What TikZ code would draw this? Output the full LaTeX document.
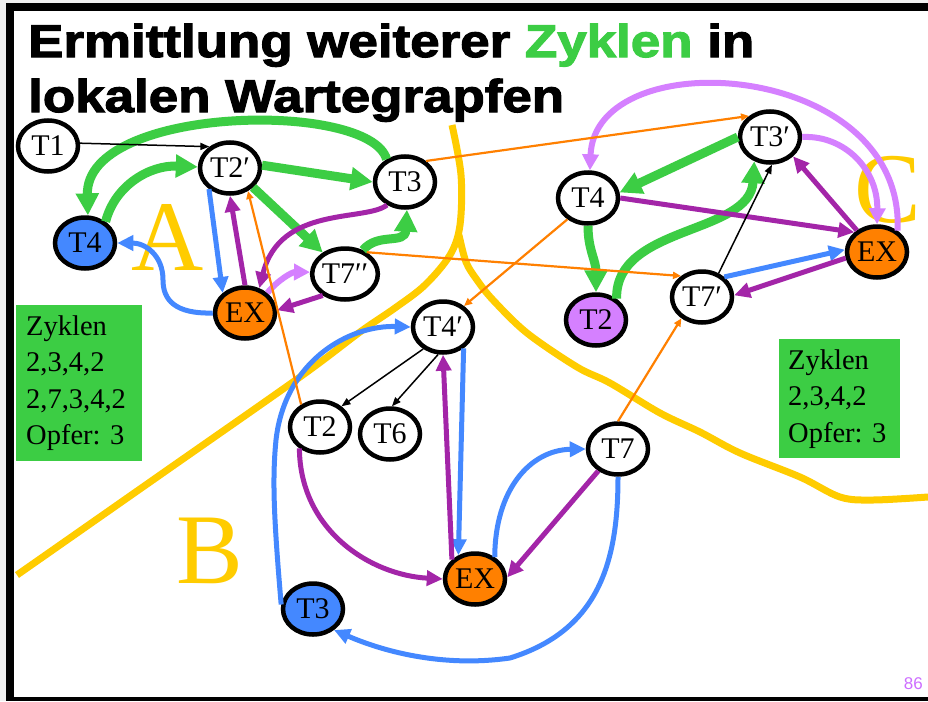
\documentclass[tikz,border=0pt]{standalone}
\usepackage{fontspec}
\setmainfont{Liberation Serif}
\newfontfamily\titlefont[FakeStretch=1.15,FakeBold=2.5]{Liberation Sans Bold}
\newfontfamily\pagefont{Liberation Sans}
\usetikzlibrary{arrows.meta,shapes.geometric}
\frenchspacing

\definecolor{zgreen}{RGB}{60,205,68}
\definecolor{zpurple}{RGB}{163,37,168}
\definecolor{zblue}{RGB}{68,136,255}
\definecolor{zlav}{RGB}{213,128,255}
\definecolor{zorange}{RGB}{255,128,0}
\definecolor{zgold}{RGB}{255,204,0}
\definecolor{pnum}{RGB}{205,110,255}

\tikzset{
  tnode/.style={ellipse, draw, line width=4.5pt, minimum width=60pt, minimum height=51pt,
    inner sep=0pt, fill=white, font=\fontsize{30}{36}\selectfont},
  gar/.style={draw=zgreen, line width=9pt, -{Triangle[length=22pt,width=22pt]}},
  par/.style={draw=zpurple, line width=5pt, -{Triangle[length=16pt,width=15pt]}},
  bar/.style={draw=zblue, line width=5pt, -{Triangle[length=16pt,width=15pt]}},
  lar/.style={draw=zlav, line width=6pt, -{Triangle[length=16pt,width=16pt]}},
  oar/.style={draw=zorange, line width=2.2pt, -{Triangle[length=8pt,width=7pt]}},
  kar/.style={draw=black, line width=1.5pt, -{Triangle[length=9pt,width=7pt]}},
  yline/.style={draw=zgold, line width=7pt},
  letter/.style={anchor=base, inner sep=0pt, text=zgold, font=\fontsize{100}{100}\selectfont},
  zbox/.style={fill=zgreen, anchor=north west, align=left, inner xsep=10pt,
    font=\fontsize{28.5}{36.5}\selectfont},
  tline/.style={anchor=base west, inner sep=0pt, font=\titlefont\fontsize{46}{50}\selectfont}
}

\begin{document}
\begin{tikzpicture}[x=1pt,y=-1pt]
\useasboundingbox (0,0) rectangle (928,701);
% slide frame
\fill[black!6] (0,0) rectangle (928,701);
\fill[white] (6,4) rectangle (928,701);
\fill[black] (6,3.5) rectangle (928,11.5);
\fill[black] (6,3.5) rectangle (14,701);
\fill[black] (6,696.5) rectangle (928,701);

% borders between the sites
\draw[yline] plot[smooth,tension=0.55] coordinates {(452,125) (461,175) (460,225) (450,255) (425,285) (395,308) (360,332) (300,377) (160,475) (17,575)};
\draw[yline] plot[smooth,tension=0.55] coordinates {(459,235) (466,262) (477,280) (493,300) (527,333) (577,367) (610,383) (660,413) (700,432) (740,453) (800,477) (840,497) (873,500) (928,497)};
\node[letter] (lA) at (168,270) {A};
\node[letter] (lB) at (210,583) {B};
\node[letter] (lC) at (888,222) {C};

\node[tline] (title1) at (28,57) {Ermittlung weiterer \textcolor{zgreen}{Zyklen} in};
\node[tline] (title2) at (28,112) {lokalen Wartegrapfen};

\node[zbox, text width=106pt, minimum height=156pt] (zykA) at (16,305) {Zyklen\\2,3,4,2\\2,7,3,4,2\\Opfer: 3};
\node[zbox, text width=103pt, inner xsep=9pt, minimum height=119pt] (zykC) at (779,339) {Zyklen\\2,3,4,2\\Opfer: 3};
\node[anchor=base east, inner sep=0pt, text=pnum, font=\pagefont\fontsize{17}{20}\selectfont] (page) at (923,689) {86};

% site A
\node[tnode] (T1) at (48,146) {T1};
\node[tnode] (T2p) at (230,168) {T2′};
\node[tnode, fill=zblue] (T4a) at (85,243) {T4};
\node[tnode, fill=zorange] (EXa) at (245,313) {EX};
\node[tnode] (T3a) at (405,182) {T3};
\node[tnode] (T7pp) at (345,274) {T7′′};
% site B
\node[tnode] (T4p) at (443,327) {T4′};
\node[tnode] (T2b) at (320,427) {T2};
\node[tnode] (T6) at (390,434) {T6};
\node[tnode] (T7) at (618,449) {T7};
\node[tnode, fill=zorange] (EXb) at (475,579) {EX};
\node[tnode, fill=zblue] (T3b) at (313,609) {T3};
% site C
\node[tnode, fill=zlav] (T2c) at (596,320) {T2};
\node[tnode] (T4c) at (588,198) {T4};
\node[tnode] (T3p) at (770,137) {T3′};
\node[tnode, fill=zorange] (EXc) at (877,252) {EX};
\node[tnode] (T7p) at (702,297) {T7′};

% green
\draw[gar] (T3a.129) .. controls (370,100) and (85,105) .. (T4a.84);
\draw[gar] (T4a.46) .. controls (115,185) and (150,165) .. (T2p.178);
\draw[gar] (T2p.5) -- (T3a.west);
\draw[gar] (T2p.-40) -- (T7pp.136);
\draw[gar] (T7pp.53) .. controls (378,232) and (405,245) .. (T3a.-86);
\draw[gar] (T3p.180) -- (T4c.10);
\draw[gar] (T4c.-90) .. controls (588,250) and (596,260) .. (T2c.90);
\draw[gar] (T2c.46) .. controls (615,225) and (750,235) .. (T3p.-123);
% blue
\draw[bar] (T2p.-135) -- (EXa.138);
\draw[bar] (EXa.west) .. controls (175,314) and (163,300) .. (163,280) .. controls (163,255) and (145,243) .. (T4a.east);
\draw[bar] (T4p.-46) -- (EXb.125);
\draw[bar] (EXb.48) .. controls (495,490) and (530,450) .. (T7.west);
\draw[bar] (T7.-90) .. controls (618,560) and (600,630) .. (510,658) .. controls (440,668) and (380,650) .. (T3b.-45);
\draw[bar] (T3b.172) .. controls (274,520) and (272,480) .. (276,440) .. controls (285,360) and (350,325) .. (T4p.west);
\draw[bar] (T7p.42) -- (EXc.176);
% purple
\draw[par] (EXa.90) -- (T2p.-90);
\draw[par] (T3a.-128) .. controls (365,222) and (280,205) .. (EXa.60);
\draw[par] (T7pp.-136) -- (EXa.5);
\draw[par] (EXb.140) -- (T4p.-90);
\draw[par] (T2b.-134) .. controls (300,530) and (370,575) .. (EXb.west);
\draw[par] (T7.-132) -- (EXb.3);
\draw[par] (EXc.133) -- (T3p.-40);
\draw[par] (T4c.east) -- (EXc.139);
\draw[par] (EXc.-169) -- (T7p.3);
% lavender
\draw[lar] (EXa.42) .. controls (278,280) and (292,272) .. (T7pp.177);
\draw[lar] (EXc.46) .. controls (905,60) and (595,40) .. (T4c.86);
\draw[lar] (T3p.east) .. controls (845,135) and (878,170) .. (EXc.90);
% orange
\draw[oar] (T2b.130) -- (T2p.-52);
\draw[oar] (T3a.45) -- (T3p.135);
\draw[oar] (T7pp.45) -- (T7p.135);
\draw[oar] (T4c.-134) -- (T4p.45);
\draw[oar] (T7.90) -- (T7p.-134);
% black
\draw[kar] (T1.5) -- (T2p.134);
\draw[kar] (T4p.-132) -- (T2b.44);
\draw[kar] (T4p.-100) -- (T6.86);
\draw[kar] (T7p.55) -- (T3p.-86);
\end{tikzpicture}
\end{document}
